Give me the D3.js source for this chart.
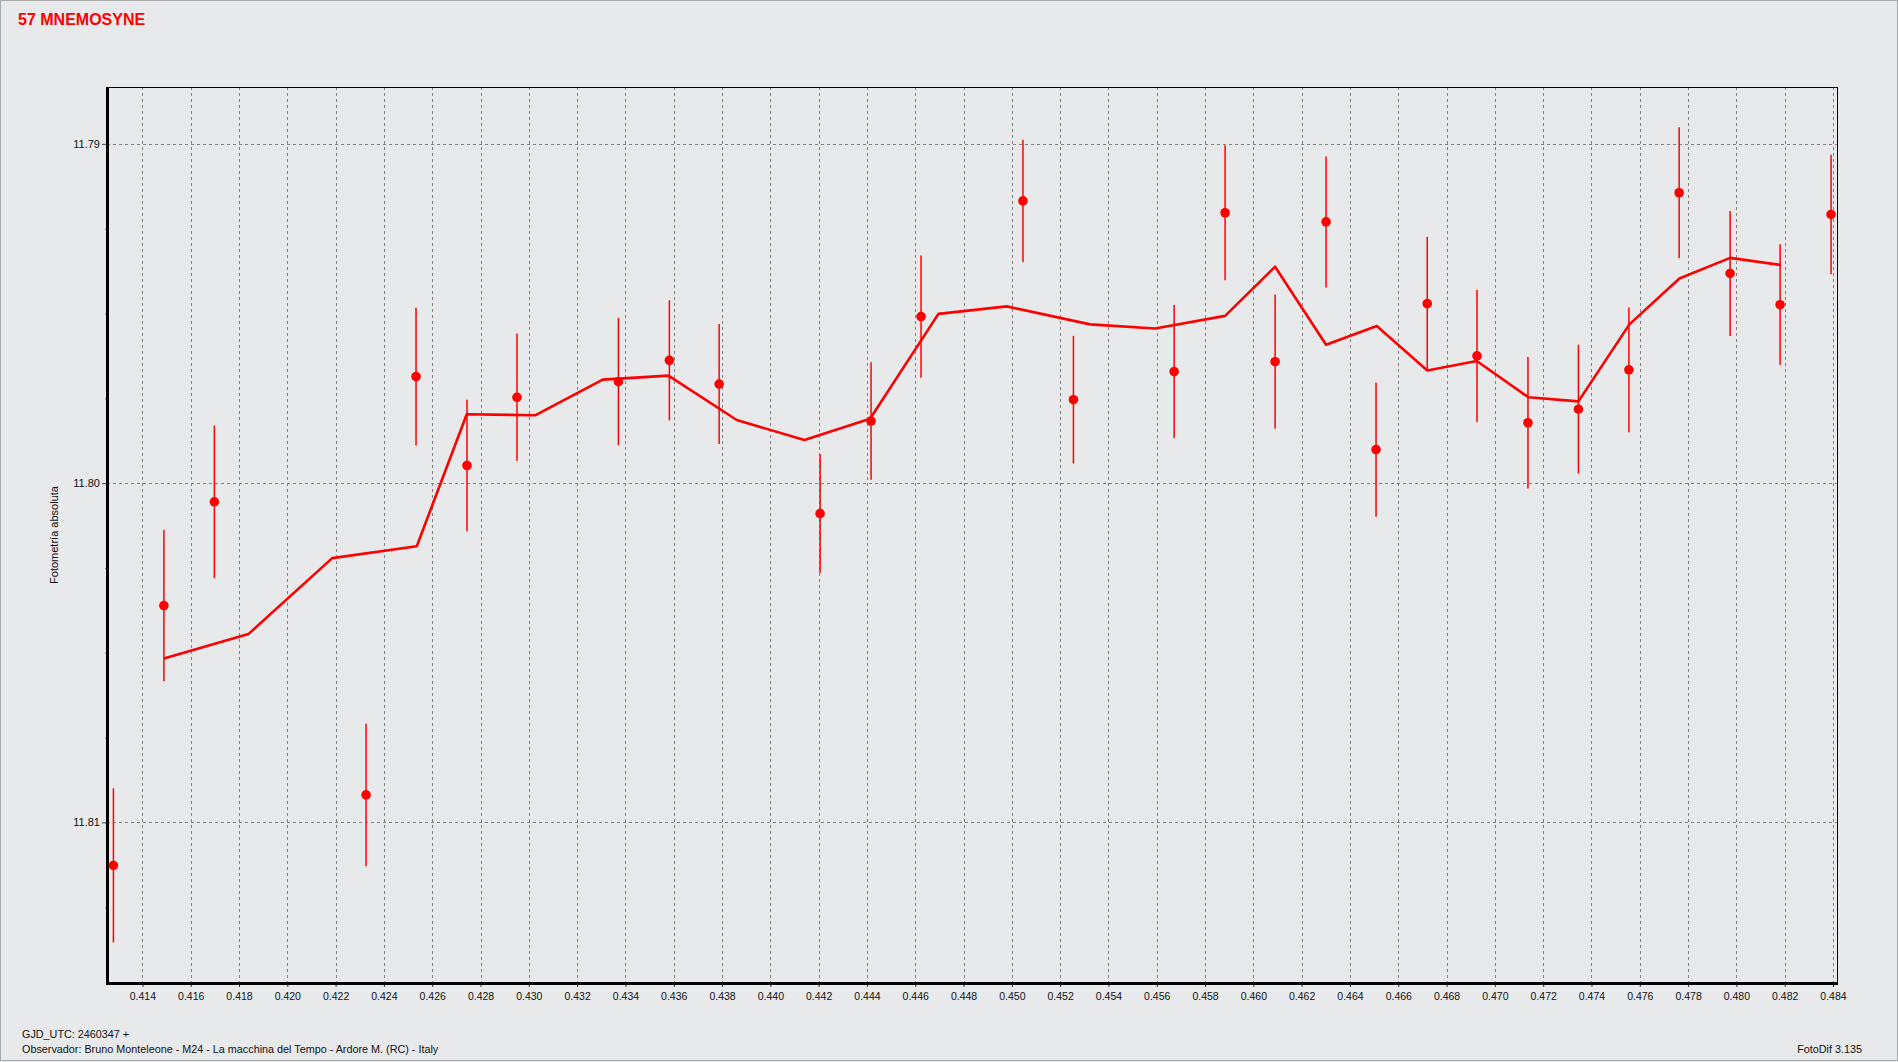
<!DOCTYPE html>
<html>
<head>
<meta charset="utf-8">
<script src="https://cdn.jsdelivr.net/npm/d3@7"></script>
<style>
  html, body { margin: 0; padding: 0; background: #e8e9eb; }
  svg { display: block; font-family: "Liberation Sans", Arial, sans-serif; }
</style>
</head>
<body>
<svg id="chart" width="1898" height="1062"></svg>
<script>
// ---- data ----
const title = "57 MNEMOSYNE";
const yAxisTitle = "Fotometría absoluta";
const footerLine1 = "GJD_UTC: 2460347 +";
const footerLine2 = "Observador: Bruno Monteleone - M24 - La macchina del Tempo - Ardore M. (RC) - Italy";
const footerRight = "FotoDif 3.135";

// observation times (fraction of day after GJD 2460347)
const obsTime = [0.41280, 0.41489, 0.41698, 0.42326, 0.42533, 0.42744, 0.42951, 0.43371, 0.43582, 0.43788,
                 0.44206, 0.44417, 0.44624, 0.45046, 0.45255, 0.45672, 0.45883, 0.46090, 0.46301, 0.46508,
                 0.46720, 0.46926, 0.47137, 0.47346, 0.47555, 0.47763, 0.47974, 0.48181, 0.48392];
// absolute magnitude
const obsMag = [11.81127, 11.80361, 11.80055, 11.80919, 11.79686, 11.79948, 11.79747, 11.79701, 11.79638, 11.79708,
                11.80090, 11.79817, 11.79509, 11.79168, 11.79754, 11.79671, 11.79203, 11.79642, 11.79230, 11.79901,
                11.79471, 11.79625, 11.79822, 11.79782, 11.79666, 11.79144, 11.79382, 11.79474, 11.79208];
// error half-widths
const obsErr = [0.00227, 0.00223, 0.00225, 0.00210, 0.00203, 0.00194, 0.00188, 0.00188, 0.00177, 0.00177,
                0.00175, 0.00173, 0.00180, 0.00180, 0.00188, 0.00196, 0.00199, 0.00198, 0.00193, 0.00198,
                0.00197, 0.00195, 0.00194, 0.00190, 0.00184, 0.00193, 0.00184, 0.00178, 0.00176];

// smoothed curve
const curveTime = [0.41489, 0.41839, 0.42186, 0.42536, 0.42743, 0.43026, 0.43306, 0.43578, 0.43861, 0.44141,
                   0.44413, 0.44696, 0.44979, 0.45324, 0.45593, 0.45883, 0.46090, 0.46301, 0.46511, 0.46720,
                   0.46925, 0.47139, 0.47346, 0.47557, 0.47764, 0.47974, 0.48184];
const curveMag = [11.80517, 11.80445, 11.80221, 11.80186, 11.79797, 11.79800, 11.79695, 11.79683, 11.79814, 11.79873,
                  11.79810, 11.79501, 11.79479, 11.79532, 11.79544, 11.79507, 11.79362, 11.79592, 11.79537, 11.79668,
                  11.79640, 11.79747, 11.79759, 11.79532, 11.79397, 11.79336, 11.79357];

const xTickLabels = ["0.414","0.416","0.418","0.420","0.422","0.424","0.426","0.428","0.430","0.432","0.434","0.436",
                     "0.438","0.440","0.442","0.444","0.446","0.448","0.450","0.452","0.454","0.456","0.458","0.460",
                     "0.462","0.464","0.466","0.468","0.470","0.472","0.474","0.476","0.478","0.480","0.482","0.484"];
const yTickLabels = ["11.79", "11.80", "11.81"];

// ---- layout ----
const W = 1898, H = 1062;
const plot = { left: 107, right: 1837, top: 87, bottom: 983 };
const xDomain = [0.412534, 0.484166];
const yDomain = [11.788323, 11.814735];
const RED = "#ff0000";
const GRID = "#808080";

const svg = d3.select("#chart");
const x = d3.scaleLinear().domain(xDomain).range([plot.left, plot.right]);
const y = d3.scaleLinear().domain(yDomain).range([plot.top, plot.bottom]);

// background + window border
svg.append("rect").attr("x", 0).attr("y", 0).attr("width", W).attr("height", H).attr("fill", "#e8e9eb");
svg.append("rect").attr("x", 0.5).attr("y", 0.5).attr("width", W - 1).attr("height", H - 2)
   .attr("fill", "none").attr("stroke", "#a8a8a8").attr("stroke-width", 1);

// title
svg.append("text").attr("x", 18).attr("y", 25)
   .attr("fill", RED).attr("font-weight", "bold").attr("font-size", 16)
   .text(title);

// gridlines
const gridG = svg.append("g").attr("shape-rendering", "crispEdges");
const xTickVals = xTickLabels.map(Number);
const yTickVals = yTickLabels.map(Number);
gridG.selectAll("line.vx").data(xTickVals).join("line")
  .attr("x1", d => Math.round(x(d)) + 0.5).attr("x2", d => Math.round(x(d)) + 0.5)
  .attr("y1", plot.top).attr("y2", plot.bottom)
  .attr("stroke", GRID).attr("stroke-width", 1).attr("stroke-dasharray", "3,3");
gridG.selectAll("line.hy").data(yTickVals).join("line")
  .attr("y1", d => Math.round(y(d)) + 0.5).attr("y2", d => Math.round(y(d)) + 0.5)
  .attr("x1", plot.left).attr("x2", plot.right)
  .attr("stroke", GRID).attr("stroke-width", 1).attr("stroke-dasharray", "3,3");

// x axis (bottom) with labels
const xAxis = d3.axisBottom(x)
  .tickValues(xTickVals)
  .tickFormat((d, i) => xTickLabels[i])
  .tickSize(4).tickPadding(6);
const xg = svg.append("g").attr("transform", `translate(0,${plot.bottom})`).call(xAxis);
xg.select(".domain").remove();
xg.selectAll("text").attr("font-size", 10.5).attr("fill", "#111").attr("font-family", "Liberation Sans, Arial, sans-serif");
xg.selectAll("line").attr("stroke", "#333");
// minor x ticks
const xMinor = d3.axisBottom(x).tickValues(d3.range(0.413, 0.4841, 0.001)).tickSize(2).tickFormat("");
const xmg = svg.append("g").attr("transform", `translate(0,${plot.bottom})`).call(xMinor);
xmg.select(".domain").remove();
xmg.selectAll("line").attr("stroke", "#444");

// y axis (left) with labels
const yAxis = d3.axisLeft(y)
  .tickValues(yTickVals)
  .tickFormat((d, i) => yTickLabels[i])
  .tickSize(5).tickPadding(2);
const yg = svg.append("g").attr("transform", `translate(${plot.left},0)`).call(yAxis);
yg.select(".domain").remove();
yg.selectAll("text").attr("font-size", 11).attr("fill", "#111").attr("font-family", "Liberation Sans, Arial, sans-serif");
yg.selectAll("line").attr("stroke", "#444");
const yMinor = d3.axisLeft(y).tickValues(d3.range(11.79, 11.8140, 0.0025)).tickSize(2).tickFormat("");
const ymg = svg.append("g").attr("transform", `translate(${plot.left},0)`).call(yMinor);
ymg.select(".domain").remove();
ymg.selectAll("line").attr("stroke", "#666");

// y axis title
svg.append("text")
  .attr("transform", `translate(58,${(plot.top + plot.bottom) / 2}) rotate(-90)`)
  .attr("text-anchor", "middle").attr("font-size", 11).attr("fill", "#111")
  .text(yAxisTitle);

// frame
const frame = svg.append("g").attr("shape-rendering", "crispEdges");
frame.append("line").attr("x1", plot.left).attr("x2", plot.right + 1).attr("y1", plot.top + 0.5).attr("y2", plot.top + 0.5)
  .attr("stroke", "#000").attr("stroke-width", 1.5);
frame.append("line").attr("x1", plot.right + 0.5).attr("x2", plot.right + 0.5).attr("y1", plot.top).attr("y2", plot.bottom)
  .attr("stroke", "#000").attr("stroke-width", 1.5);
frame.append("line").attr("x1", plot.left).attr("x2", plot.left).attr("y1", plot.top).attr("y2", plot.bottom + 1.5)
  .attr("stroke", "#000").attr("stroke-width", 3);
frame.append("line").attr("x1", plot.left - 1.5).attr("x2", plot.right + 1).attr("y1", plot.bottom).attr("y2", plot.bottom)
  .attr("stroke", "#000").attr("stroke-width", 3);

// smoothed curve
const line = d3.line().x((d, i) => x(curveTime[i])).y((d, i) => y(curveMag[i]));
svg.append("path").datum(curveMag).attr("d", line)
  .attr("fill", "none").attr("stroke", RED).attr("stroke-width", 2.6).attr("stroke-linejoin", "round");

// error bars
const obs = obsTime.map((t, i) => ({ t, m: obsMag[i], e: obsErr[i] }));
svg.append("g").selectAll("line").data(obs).join("line")
  .attr("x1", d => x(d.t)).attr("x2", d => x(d.t))
  .attr("y1", d => y(d.m - d.e)).attr("y2", d => y(d.m + d.e))
  .attr("stroke", RED).attr("stroke-width", 1.5);
// points
svg.append("g").selectAll("circle").data(obs).join("circle")
  .attr("cx", d => x(d.t)).attr("cy", d => y(d.m)).attr("r", 4.8)
  .attr("fill", RED);

// footer
svg.append("text").attr("x", 22).attr("y", 1038).attr("font-size", 10.8).attr("fill", "#111").text(footerLine1);
svg.append("text").attr("x", 22).attr("y", 1053).attr("font-size", 10.8).attr("fill", "#111").text(footerLine2);
svg.append("text").attr("x", 1862).attr("y", 1053).attr("text-anchor", "end").attr("font-size", 10.8).attr("fill", "#111").text(footerRight);
</script>
</body>
</html>
